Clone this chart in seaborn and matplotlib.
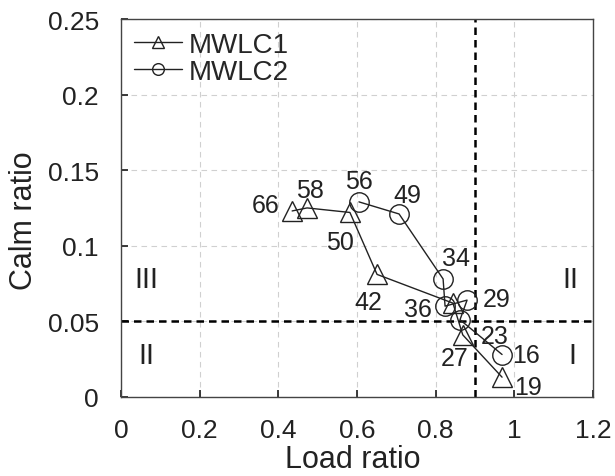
import numpy as np
import pandas as pd
import seaborn as sns
import matplotlib
matplotlib.use("Agg")
import matplotlib.pyplot as plt

# ---- data ----
mwlc1_load = [0.435, 0.473, 0.582, 0.651, 0.844, 0.869, 0.969]
mwlc1_calm = [0.123, 0.125, 0.122, 0.081, 0.062, 0.041, 0.013]
mwlc1_labels = ["66", "58", "50", "42", "36", "27", "19"]

mwlc2_load = [0.605, 0.707, 0.819, 0.824, 0.880, 0.862, 0.969]
mwlc2_calm = [0.129, 0.121, 0.078, 0.060, 0.064, 0.051, 0.028]
mwlc2_labels = ["56", "49", "34", "", "29", "23", "16"]

x_ticks = [0, 0.2, 0.4, 0.6, 0.8, 1.0, 1.2]
x_tick_labels = ["0", "0.2", "0.4", "0.6", "0.8", "1", "1.2"]
y_ticks = [0, 0.05, 0.1, 0.15, 0.2, 0.25]
y_tick_labels = ["0", "0.05", "0.1", "0.15", "0.2", "0.25"]
load_threshold = 0.9
calm_threshold = 0.05
quadrants = ["III", "II", "II", "I"]

# label offsets in points (dx, dy)
off1 = [(-19, 4), (2, 13), (-7, -21), (-6, -20), (-25, -4), (-6, -17), (19, -7)]
off2 = [(0, 15), (6, 14), (9, 15), (0, 0), (21, 1), (25, -12), (17, 0)]

sns.set_theme(style="ticks")
plt.rcParams["font.family"] = ["Liberation Sans", "DejaVu Sans"]

df = pd.DataFrame({
    "Load ratio": mwlc1_load + mwlc2_load,
    "Calm ratio": mwlc1_calm + mwlc2_calm,
    "series": ["MWLC1"] * len(mwlc1_load) + ["MWLC2"] * len(mwlc2_load),
})

fig = plt.figure(figsize=(6.15, 4.77), dpi=100)
ax = fig.add_axes([0.197, 0.166, 0.767, 0.792])

sns.lineplot(data=df, x="Load ratio", y="Calm ratio", style="series", hue="series",
             palette={"MWLC1": "#222222", "MWLC2": "#222222"},
             markers={"MWLC1": "^", "MWLC2": "o"}, dashes=False, sort=False,
             estimator=None, legend=False, ax=ax, lw=1.0,
             markersize=14, markerfacecolor="none", markeredgecolor="#222222",
             markeredgewidth=1.0, zorder=3)

for x, y, t, (dx, dy) in zip(mwlc1_load, mwlc1_calm, mwlc1_labels, off1):
    if t:
        ax.annotate(t, (x, y), xytext=(dx, dy), textcoords="offset points",
                    ha="center", va="center", fontsize=18, color="#222222")
for x, y, t, (dx, dy) in zip(mwlc2_load, mwlc2_calm, mwlc2_labels, off2):
    if t:
        ax.annotate(t, (x, y), xytext=(dx, dy), textcoords="offset points",
                    ha="center", va="center", fontsize=18, color="#222222")

ax.axvline(load_threshold, color="black", ls=(0, (3, 2)), lw=1.8, zorder=2)
ax.axhline(calm_threshold, color="black", ls=(0, (3, 2)), lw=1.8, zorder=2)

qpos = [(0.064, 0.078), (1.143, 0.078), (0.064, 0.028), (1.147, 0.028)]
for (qx, qy), q in zip(qpos, quadrants):
    ax.text(qx, qy, q, ha="center", va="center", fontsize=21, color="#222222")

ax.set_xlim(0, 1.2)
ax.set_ylim(0, 0.25)
ax.set_xticks(x_ticks)
ax.set_xticklabels(x_tick_labels)
ax.set_yticks(y_ticks)
ax.set_yticklabels(y_tick_labels)
ax.grid(True, color="#d0d0d0", ls=(0, (5, 4)), lw=0.8)
ax.tick_params(direction="in", length=5, labelsize=19, colors="#222222")
ax.tick_params(axis="y", pad=16)
ax.tick_params(axis="x", pad=15)
for s in ax.spines.values():
    s.set_color("#444444")
    s.set_linewidth(1.0)
    s.set_visible(True)
ax.set_xlabel("Load ratio", fontsize=22, color="#222222")
ax.set_ylabel("Calm ratio", fontsize=22, color="#222222")
ax.xaxis.set_label_coords(0.49, -0.125)
ax.yaxis.set_label_coords(-0.175, 0.47)

handles = ax.lines[:2]
ax.legend(handles, ["MWLC1", "MWLC2"], loc="upper left", frameon=False,
          fontsize=20, handlelength=1.75, handletextpad=0.25, borderpad=0.1,
          labelspacing=0.05, borderaxespad=0.35, markerscale=0.6)

fig.savefig("out.png", dpi=100)
